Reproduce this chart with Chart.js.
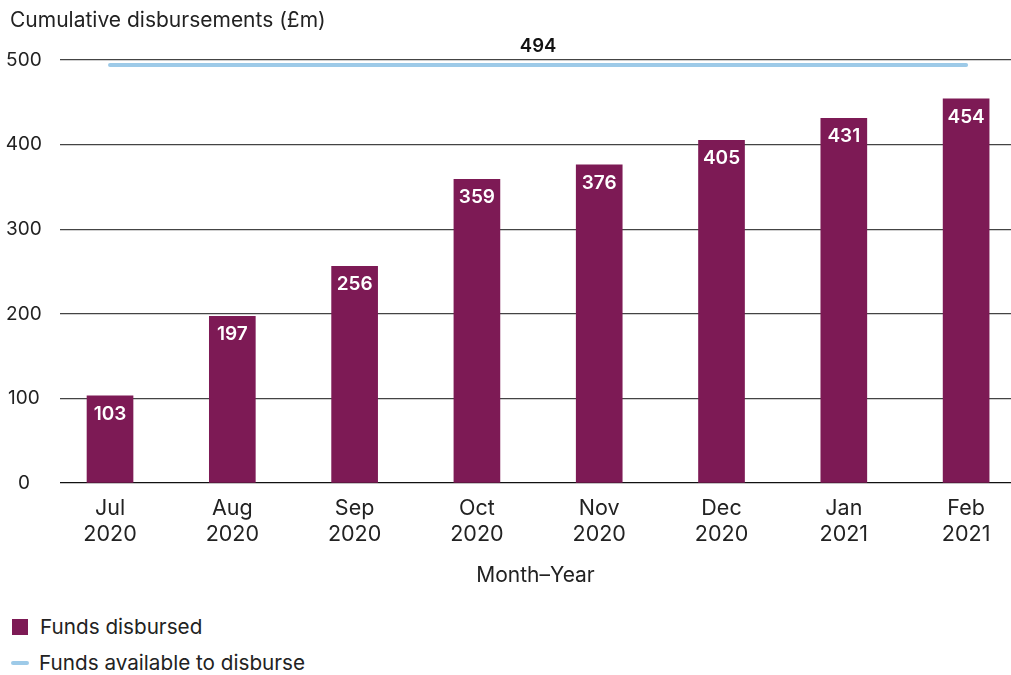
<!DOCTYPE html>
<html>
<head>
<meta charset="utf-8">
<script src="https://cdn.jsdelivr.net/npm/chart.js@4.4.0/dist/chart.umd.min.js"></script>
<style>
  html, body { margin: 0; padding: 0; background: #fff; }
  #wrap { position: relative; width: 1011px; height: 675px; font-family: Inter, "Liberation Sans", Arial, sans-serif; color: #222; }
  #c { position: absolute; left: 0; top: 0; }
  .title { position: absolute; left: 10px; top: 7px; font-size: 21px; color: #222; }
  .legend { position: absolute; left: 10px; font-size: 20.7px; color: #222; display: flex; align-items: center; }
  .sw { display: inline-block; width: 16px; height: 16px; background: #7D1A55; margin-right: 12px; margin-left: 2px; }
  .ln { display: inline-block; width: 18px; height: 4px; border-radius: 2px; background: #9DCAE8; margin-right: 10px; margin-left: 1px; }
</style>
</head>
<body>
<div id="wrap">
  <canvas id="c" width="1011" height="600"></canvas>
  <div class="title">Cumulative disbursements (£m)</div>
  <div class="legend" style="top:614px;"><span class="sw"></span>Funds disbursed</div>
  <div class="legend" style="top:650px;"><span class="ln"></span>Funds available to disburse</div>
</div>
<script>
const categories = [["Jul","2020"],["Aug","2020"],["Sep","2020"],["Oct","2020"],["Nov","2020"],["Dec","2020"],["Jan","2021"],["Feb","2021"]];
const disbursed = [103, 197, 256, 359, 376, 405, 431, 454];
const available = [494, 494, 494, 494, 494, 494, 494, 494];
const yTicks = [0, 100, 200, 300, 400, 500];

const FONT = 'Inter, "Liberation Sans", Arial, sans-serif';

const barLabels = {
  id: 'barLabels',
  afterDatasetsDraw(chart) {
    const ctx = chart.ctx;
    const meta = chart.getDatasetMeta(0);
    ctx.save();
    ctx.fillStyle = '#ffffff';
    ctx.font = '600 19px ' + FONT;
    ctx.textAlign = 'center';
    ctx.textBaseline = 'middle';
    meta.data.forEach((el, i) => {
      ctx.fillText(String(disbursed[i]), el.x, el.y + 18);
    });
    const lm = chart.getDatasetMeta(1);
    const first = lm.data[0], last = lm.data[lm.data.length - 1];
    ctx.fillStyle = '#111';
    ctx.font = '600 18.5px ' + FONT;
    ctx.fillText(String(available[0]), (first.x + last.x) / 2, first.y - 19);
    ctx.restore();
  }
};

const dataBars = disbursed.map((v, i) => ({x: i, y: v}));
const dataLine = available.map((v, i) => ({x: i, y: v}));

new Chart(document.getElementById('c'), {
  type: 'bar',
  data: {
    datasets: [
      { type: 'bar', label: 'Funds disbursed', data: dataBars, backgroundColor: '#7D1A55', barThickness: 46, order: 2 },
      { type: 'line', label: 'Funds available to disburse', data: dataLine, borderColor: '#9DCAE8', borderWidth: 4, borderCapStyle: 'round', pointRadius: 0, fill: false, order: 1 }
    ]
  },
  options: {
    responsive: false,
    animation: false,
    layout: { padding: { left: 0, right: 0, top: 60, bottom: 12 } },
    plugins: {
      legend: { display: false },
      tooltip: { enabled: false },
      title: { display: false }
    },
    scales: {
      x: {
        type: 'linear',
        offset: false,
        min: -0.409, max: 7.367,
        afterBuildTicks(scale) { scale.ticks = categories.map((c, i) => ({ value: i })); },
        ticks: {
          callback: (v) => categories[v],
          color: '#222', font: { family: FONT, size: 21.5, lineHeight: 1.18 }, padding: 5, maxRotation: 0, autoSkip: false
        },
        grid: { display: false },
        border: { display: false },
        title: { display: true, text: 'Month–Year', color: '#222', font: { family: FONT, size: 21 }, padding: { top: 11, bottom: 0 } }
      },
      y: {
        min: 0, max: 500,
        afterBuildTicks(scale) { scale.ticks = yTicks.map(v => ({ value: v })); },
        afterFit(scale) { scale.width = 60; },
        ticks: { color: '#222', font: { family: FONT, size: 19 }, padding: 18, crossAlign: 'center' },
        grid: { color: (c) => c.tick && c.tick.value === 0 ? '#111' : '#444', lineWidth: 1.2, drawTicks: false },
        border: { display: false }
      }
    }
  },
  plugins: [barLabels]
});
</script>
</body>
</html>
